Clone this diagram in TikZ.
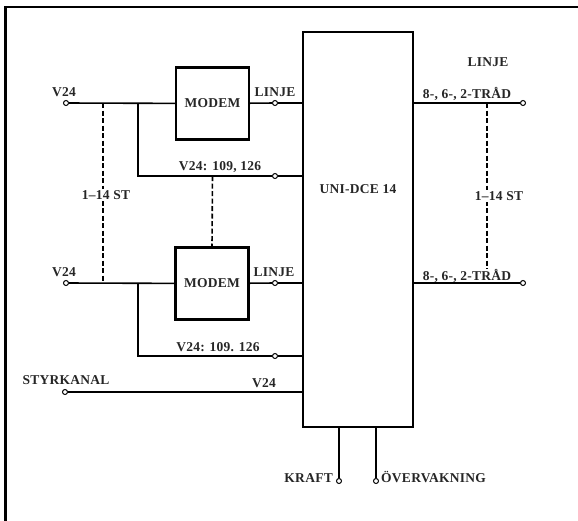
\documentclass[tikz,border=0pt]{standalone}
\usepackage{fontspec}
\setmainfont{Liberation Serif}[LetterSpace=2]
\begin{document}
\begin{tikzpicture}[x=1pt,y=-1pt,
  lbl/.style={font=\fontsize{13.5}{15}\selectfont\bfseries, inner sep=1pt, text=black!85},
  wire/.style={line width=1.6pt},
  dwire/.style={line width=1.6pt, dash pattern=on 5pt off 2.5pt},
  blk/.style={draw, line width=2.4pt, minimum width=73pt, minimum height=72pt, inner sep=0pt},
  term/.style={circle, draw, fill=white, line width=1pt, minimum size=5pt, inner sep=0pt}]
\useasboundingbox (0,0) rectangle (578,520);
% frame
\coordinate (fbl) at (5.5,530);
\coordinate (ftl) at (5.5,7);
\coordinate (ftr) at (590,7);
\draw[line width=2.2pt] (fbl) -- (ftl) -- (ftr);

% blocks
\node[blk, lbl, inner sep=0pt] (m1) at (212.5,103.5) {MODEM};
\node[blk, lbl, inner sep=0pt] (m2) at (212,283.5) {MODEM};
\node[draw, line width=2.4pt, minimum width=110pt, minimum height=395pt, inner sep=0pt] (dce) at (358,229.5) {};
\node[lbl] (dcel) at (358,189) {UNI-DCE 14};

% terminals
\node[term] (t1) at (66,103) {};
\node[term] (t2) at (66,283) {};
\node[term] (ts) at (65,392) {};
\node[term] (l1) at (275,103) {};
\node[term] (l2) at (275,283) {};
\node[term] (v1) at (275,176) {};
\node[term] (v2) at (275,356) {};
\node[term] (r1) at (523,103) {};
\node[term] (r2) at (523,283) {};
\node[term] (kr) at (339,481) {};
\node[term] (ov) at (376,481) {};

\coordinate (j1) at (103,103);
\coordinate (j2) at (103,283);
\coordinate (b1) at (138,103);
\coordinate (b2) at (138,283);
\coordinate (rj1) at (487,103);
\coordinate (rj2) at (487,269);

% wires
\draw[wire] (t1) -- (m1);
\draw[wire] (t2) -- (m2);
\draw[wire] (m1) -- (l1);
\draw[wire] (l1) -- (l1 -| dce.west);
\draw[wire] (m2) -- (l2);
\draw[wire] (l2) -- (l2 -| dce.west);
\draw[wire] (b1) |- (v1);
\draw[wire] (v1) -- (v1 -| dce.west);
\draw[wire] (b2) |- (v2);
\draw[wire] (v2) -- (v2 -| dce.west);
\draw[wire] (ts) -- (ts -| dce.west);
\draw[wire] (r1 -| dce.east) -- (r1);
\draw[wire] (r2 -| dce.east) -- (r2);
\draw[wire] (kr |- dce.south) -- (kr);
\draw[wire] (ov |- dce.south) -- (ov);

% dashed
\draw[dwire] (j1) -- (j2);
\draw[dwire] (v1 -| m1) -- (m2.north);
\draw[dwire] (rj1) -- (rj2);

% labels
\node[lbl] (lv1) at (64,92) {V24};
\node[lbl] (lv2) at (64,272) {V24};
\node[lbl] (ll1) at (275,92) {LINJE};
\node[lbl] (ll2) at (274,272) {LINJE};
\node[lbl] (lx1) at (220,167) {V24: 109, 126};
\node[lbl] (lx2) at (218,347) {V24: 109. 126};
\node[lbl, fill=white] (lst1) at (106,195) {1--14 ST};
\node[lbl, fill=white] (lst2) at (499,196) {1--14 ST};
\node[lbl] (lsty) at (66,380) {STYRKANAL};
\node[lbl] (lsv) at (264,383) {V24};
\node[lbl] (lrl) at (488,62) {LINJE};
\node[lbl] (lr1) at (467,94) {8-, 6-, 2-TRÅD};
\node[lbl] (lr2) at (467,276) {8-, 6-, 2-TRÅD};
\node[lbl, anchor=east] (lkr) at (334,478) {KRAFT};
\node[lbl, anchor=west] (lov) at (380,477) {ÖVERVAKNING};
\end{tikzpicture}
\end{document}
